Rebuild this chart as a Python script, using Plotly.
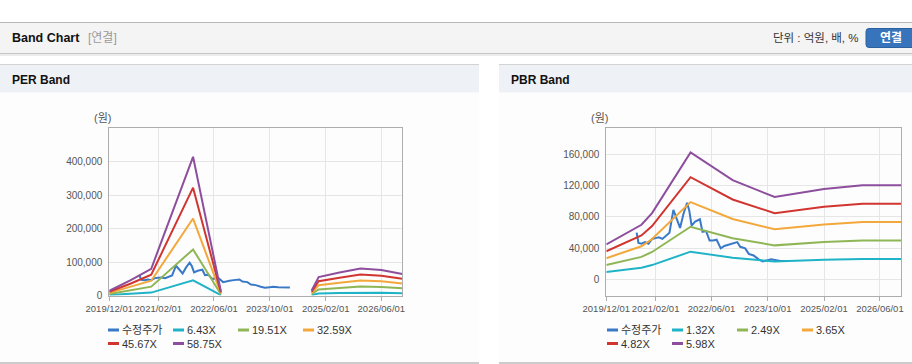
import plotly.graph_objects as go

W, H = 912, 364

# ---------------- data ----------------
price_name = "수정주가"
price_dates = ["2020-08-20", "2020-09-05", "2020-10-01", "2020-11-01", "2020-12-01",
               "2021-01-01", "2021-02-01", "2021-03-01", "2021-04-01", "2021-05-01",
               "2021-06-01", "2021-07-05", "2021-08-01", "2021-09-01", "2021-10-01",
               "2021-11-01", "2021-11-20", "2021-12-10", "2022-01-10", "2022-02-20",
               "2022-03-15", "2022-04-15", "2022-05-15", "2022-06-15", "2022-07-15",
               "2022-08-20", "2022-09-20", "2022-10-15", "2022-11-20", "2023-01-10",
               "2023-02-05", "2023-03-20", "2023-04-20", "2023-06-01", "2023-07-15",
               "2023-08-20", "2023-10-01", "2023-11-01", "2023-12-15", "2024-01-20",
               "2024-03-25"]
price_vals = [60000, 47000, 46000, 48000, 46000,
              52000, 53000, 54000, 52000, 56000,
              60000, 89000, 78000, 66000, 84000,
              98000, 88000, 69000, 74000, 77000,
              61000, 62000, 50000, 50000, 51000,
              40000, 43000, 44000, 46000, 48000,
              42000, 40000, 33000, 31000, 26000,
              23500, 25000, 26000, 25000, 24000,
              24000]

per_names = ["6.43X", "19.51X", "32.59X", "45.67X", "58.75X"]
per_dates = ["2019-12-01", "2020-06-01", "2020-12-01", "2021-12-01", "2022-08-01",
             "2023-09-01", "2024-10-01", "2024-12-01", "2025-06-01", "2025-12-01",
             "2026-06-01", "2026-12-01"]
per_643 = [1500, 5000, 8700, 45400, 1300, None, 1600, 6000, 7500, 8800, 8400, 7100]
per_1951 = [4700, 15000, 26500, 137700, 3900, None, 4900, 18300, 22800, 26700, 25400, 21500]
per_3259 = [7800, 25100, 44300, 230100, 6500, None, 8100, 30600, 38100, 44600, 42400, 35800]
per_4567 = [11000, 35200, 62100, 322400, 9100, None, 11400, 42900, 53400, 62600, 59400, 50200]
per_5875 = [14100, 45200, 79900, 414800, 11800, None, 14700, 55200, 68700, 80500, 76400, 64600]

pbr_names = ["1.32X", "2.49X", "3.65X", "4.82X", "5.98X"]
pbr_dates = ["2019-12-01", "2020-06-01", "2020-10-01", "2021-01-01", "2021-12-01",
             "2022-12-01", "2023-12-01", "2025-02-01", "2026-01-01", "2026-12-01"]
pbr_132 = [9900, 13200, 15400, 18700, 35800, 28000, 23200, 25500, 26500, 26500]
pbr_249 = [18800, 24900, 29100, 35400, 67500, 52800, 43800, 48100, 50100, 50100]
pbr_365 = [27500, 36500, 42700, 51800, 98900, 77400, 64200, 70500, 73400, 73400]
pbr_482 = [36300, 48200, 56400, 68400, 130600, 102200, 84800, 93000, 96900, 96900]
pbr_598 = [45000, 59800, 70000, 84900, 162100, 126800, 105300, 115400, 120200, 120200]

x_tickvals = ["2019-12-01", "2021-02-01", "2022-06-01", "2023-10-01", "2025-02-01", "2026-06-01"]
x_ticktext = ["2019/12/01", "2021/02/01", "2022/06/01", "2023/10/01", "2025/02/01", "2026/06/01"]
x_range = ["2019-12-01", "2026-12-01"]
per_y_ticks = [0, 100000, 200000, 300000, 400000]
per_y_range = [0, 500000]
pbr_y_ticks = [0, 40000, 80000, 120000, 160000]
pbr_y_range = [-20000, 192800]

price_color = "#3a78c8"
band_colors = ["#1fb3c7", "#8fb656", "#f3a83c", "#d13530", "#8d4e9d"]

FONT = "Liberation Sans, Noto Sans CJK KR, sans-serif"


def X(px):
    return px / W


def Y(py):
    return 1 - py / H


fig = go.Figure()

# PER traces
fig.add_trace(go.Scatter(x=price_dates, y=price_vals, mode="lines", name=price_name,
                         line=dict(color=price_color, width=2), xaxis="x", yaxis="y",
                         hoverinfo="skip", showlegend=False))
for nm, vals, col in zip(per_names, [per_643, per_1951, per_3259, per_4567, per_5875], band_colors):
    fig.add_trace(go.Scatter(x=per_dates, y=vals, mode="lines", name=nm,
                             line=dict(color=col, width=2), xaxis="x", yaxis="y",
                             connectgaps=False, hoverinfo="skip", showlegend=False))

# PBR traces
fig.add_trace(go.Scatter(x=price_dates, y=price_vals, mode="lines", name=price_name,
                         line=dict(color=price_color, width=2), xaxis="x2", yaxis="y2",
                         hoverinfo="skip", showlegend=False))
for nm, vals, col in zip(pbr_names, [pbr_132, pbr_249, pbr_365, pbr_482, pbr_598], band_colors):
    fig.add_trace(go.Scatter(x=pbr_dates, y=vals, mode="lines", name=nm,
                             line=dict(color=col, width=2), xaxis="x2", yaxis="y2",
                             hoverinfo="skip", showlegend=False))

# ---------------- page furniture ----------------
shapes = []
annotations = []


def rect(x0, y0, x1, y1, fill, line=None):
    shapes.append(dict(type="rect", xref="paper", yref="paper", layer="below",
                       x0=X(x0), x1=X(x1), y0=Y(y1), y1=Y(y0),
                       fillcolor=fill, line=dict(width=0) if line is None else line))


def hline(x0, x1, y, color, width=1):
    shapes.append(dict(type="line", xref="paper", yref="paper", layer="below",
                       x0=X(x0), x1=X(x1), y0=Y(y), y1=Y(y),
                       line=dict(color=color, width=width)))


def text(x, y, s, size, color, anchor="left", bold=False):
    annotations.append(dict(xref="paper", yref="paper", x=X(x), y=Y(y),
                            xanchor=anchor, yanchor="middle", showarrow=False,
                            text=("<b>%s</b>" % s) if bold else s,
                            font=dict(family=FONT, size=size, color=color)))


# header bar
rect(0, 22.5, W, 53, "#f4f4f4")
hline(0, W, 22.5, "#b8b8b8")
rect(0, 53, W, 56, "#ececec")
hline(0, W, 53.5, "#c6c6c6")
text(10, 38, "Band Chart", 12.5, "#111111", bold=True)
text(86, 38, "[연결]", 12, "#9a9a9a")
text(861, 38, "단위 : 억원, 배, %", 11.5, "#333333", anchor="right")

# 연결 button (rounded path)
bx0, by0, bx1, by1, r = 866, 28.5, 918, 47.5, 3
path = ("M {a},{b} L {c},{b} Q {d},{b} {d},{e} L {d},{f} Q {d},{g} {c},{g} "
        "L {a},{g} Q {h},{g} {h},{f} L {h},{e} Q {h},{b} {a},{b} Z").format(
    a=X(bx0 + r), b=Y(by0), c=X(bx1 - r), d=X(bx1), e=Y(by0 + r),
    f=Y(by1 - r), g=Y(by1), h=X(bx0))
shapes.append(dict(type="path", xref="paper", yref="paper", layer="below", path=path,
                   fillcolor="#3874bb", line=dict(color="#2c619f", width=1)))
text(891, 38, "연결", 12, "#ffffff", anchor="center", bold=True)

# panels
for (px0, px1, title, tx) in [(0, 479, "PER Band", 10), (499, W, "PBR Band", 509)]:
    rect(px0, 92.5, px1, 363, "#fdfdfd")
    rect(px0, 64, px1, 92.5, "#eef2f7")
    hline(px0, px1, 64.5, "#d3d3d3")
    hline(px0, px1, 363, "#cccccc", 2)
    text(tx, 80, title, 12, "#111111", bold=True)

# unit labels
text(92, 118, "(원)", 11, "#555555")
text(589, 118, "(원)", 11, "#555555")

# manual legends
legend_items_per = [(price_name, price_color)] + list(zip(per_names, band_colors))
legend_items_pbr = [(price_name, price_color)] + list(zip(pbr_names, band_colors))
for items, lx in [(legend_items_per, 108), (legend_items_pbr, 607)]:
    for i, (nm, col) in enumerate(items):
        row, colm = divmod(i, 4)
        x0 = lx + 65 * colm
        yy = 330 + 13.5 * row
        shapes.append(dict(type="line", xref="paper", yref="paper",
                           x0=X(x0), x1=X(x0 + 11), y0=Y(yy), y1=Y(yy),
                           line=dict(color=col, width=3)))
        text(x0 + 12, yy, nm, 11, "#333333")

# ---------------- axes ----------------
plot_top, plot_bot = 128.3, 295.5
common_x = dict(type="date", range=x_range, tickvals=x_tickvals, ticktext=x_ticktext,
                showgrid=True, gridcolor="#e6e6e6", gridwidth=1, showline=True,
                linecolor="#adadad", linewidth=1, mirror=True, ticks="outside",
                ticklen=4, tickcolor="#adadad", zeroline=False, tickangle=0,
                automargin=False,
                tickfont=dict(family=FONT, size=9.5, color="#555555"))
common_y = dict(showgrid=True, gridcolor="#e6e6e6", gridwidth=1, showline=True,
                linecolor="#adadad", linewidth=1, mirror=True, ticks="",
                zeroline=False, tickformat=",d", ticklabelstandoff=4,
                automargin=False,
                tickfont=dict(family=FONT, size=10, color="#555555"))

fig.update_layout(
    width=W, height=H, autosize=False,
    margin=dict(l=0, r=0, t=0, b=0, pad=0, autoexpand=False),
    paper_bgcolor="#ffffff", plot_bgcolor="#ffffff",
    showlegend=False,
    font=dict(family=FONT),
    xaxis=dict(domain=[X(109.3), X(402.3)], anchor="y", **common_x),
    yaxis=dict(domain=[Y(plot_bot), Y(plot_top)], anchor="x", range=per_y_range,
               tickvals=per_y_ticks, **common_y),
    xaxis2=dict(domain=[X(606.3), X(901)], anchor="y2", **common_x),
    yaxis2=dict(domain=[Y(plot_bot), Y(plot_top)], anchor="x2", range=pbr_y_range,
                tickvals=pbr_y_ticks, **common_y),
    shapes=shapes,
    annotations=annotations,
)

fig.write_html("out.html",
               config={"displayModeBar": False, "responsive": False},
               post_script="document.body.style.margin='0';document.body.style.overflow='hidden';")
